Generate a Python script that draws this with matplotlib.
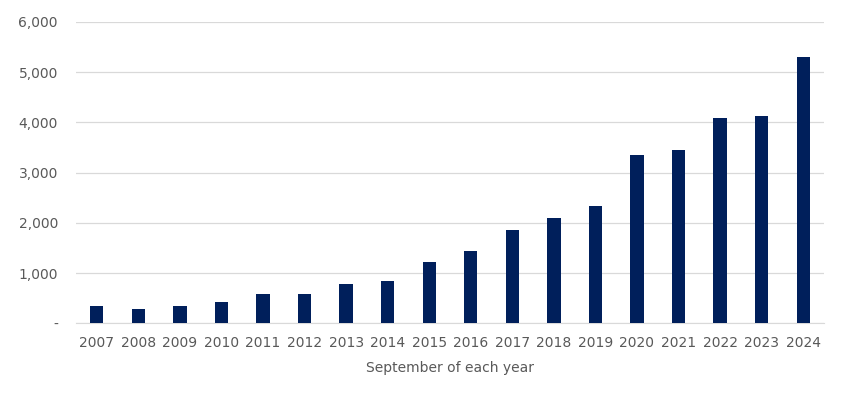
import matplotlib.pyplot as plt
import numpy as np
from matplotlib.ticker import FuncFormatter

years = ['2007', '2008', '2009', '2010', '2011', '2012', '2013', '2014', '2015',
         '2016', '2017', '2018', '2019', '2020', '2021', '2022', '2023', '2024']
values = [340, 280, 340, 430, 580, 580, 790, 850, 1230,
          1440, 1860, 2100, 2340, 3350, 3440, 4080, 4130, 5290]

bar_color = '#001f5b'
text_color = '#595959'
grid_color = '#d9d9d9'


def fmt(v, pos):
    if v == 0:
        return '-'
    return '{:,.0f}'.format(v)


fig = plt.figure(figsize=(8.46, 4.04), dpi=100)
ax = fig.add_axes([0.0898, 0.1997, 0.8842, 0.7463])

x = np.arange(len(years))
ax.bar(x, values, width=0.32, color=bar_color, zorder=3)

ax.set_xlim(-0.5, len(years) - 0.5)
ax.set_ylim(0, 6000)
ax.set_yticks(np.arange(0, 6001, 1000))
ax.yaxis.set_major_formatter(FuncFormatter(fmt))
ax.set_xticks(x)
ax.set_xticklabels(years)

ax.grid(axis='y', color=grid_color, linewidth=0.9, zorder=0)
for s in ['top', 'right', 'left']:
    ax.spines[s].set_visible(False)
ax.spines['bottom'].set_color(grid_color)
ax.tick_params(axis='both', length=0, colors=text_color, labelsize=10)
ax.tick_params(axis='y', pad=13)
ax.tick_params(axis='x', pad=9)

ax.set_xlabel('September of each year', color=text_color, fontsize=10, labelpad=8)

fig.savefig('out.png', dpi=100)
